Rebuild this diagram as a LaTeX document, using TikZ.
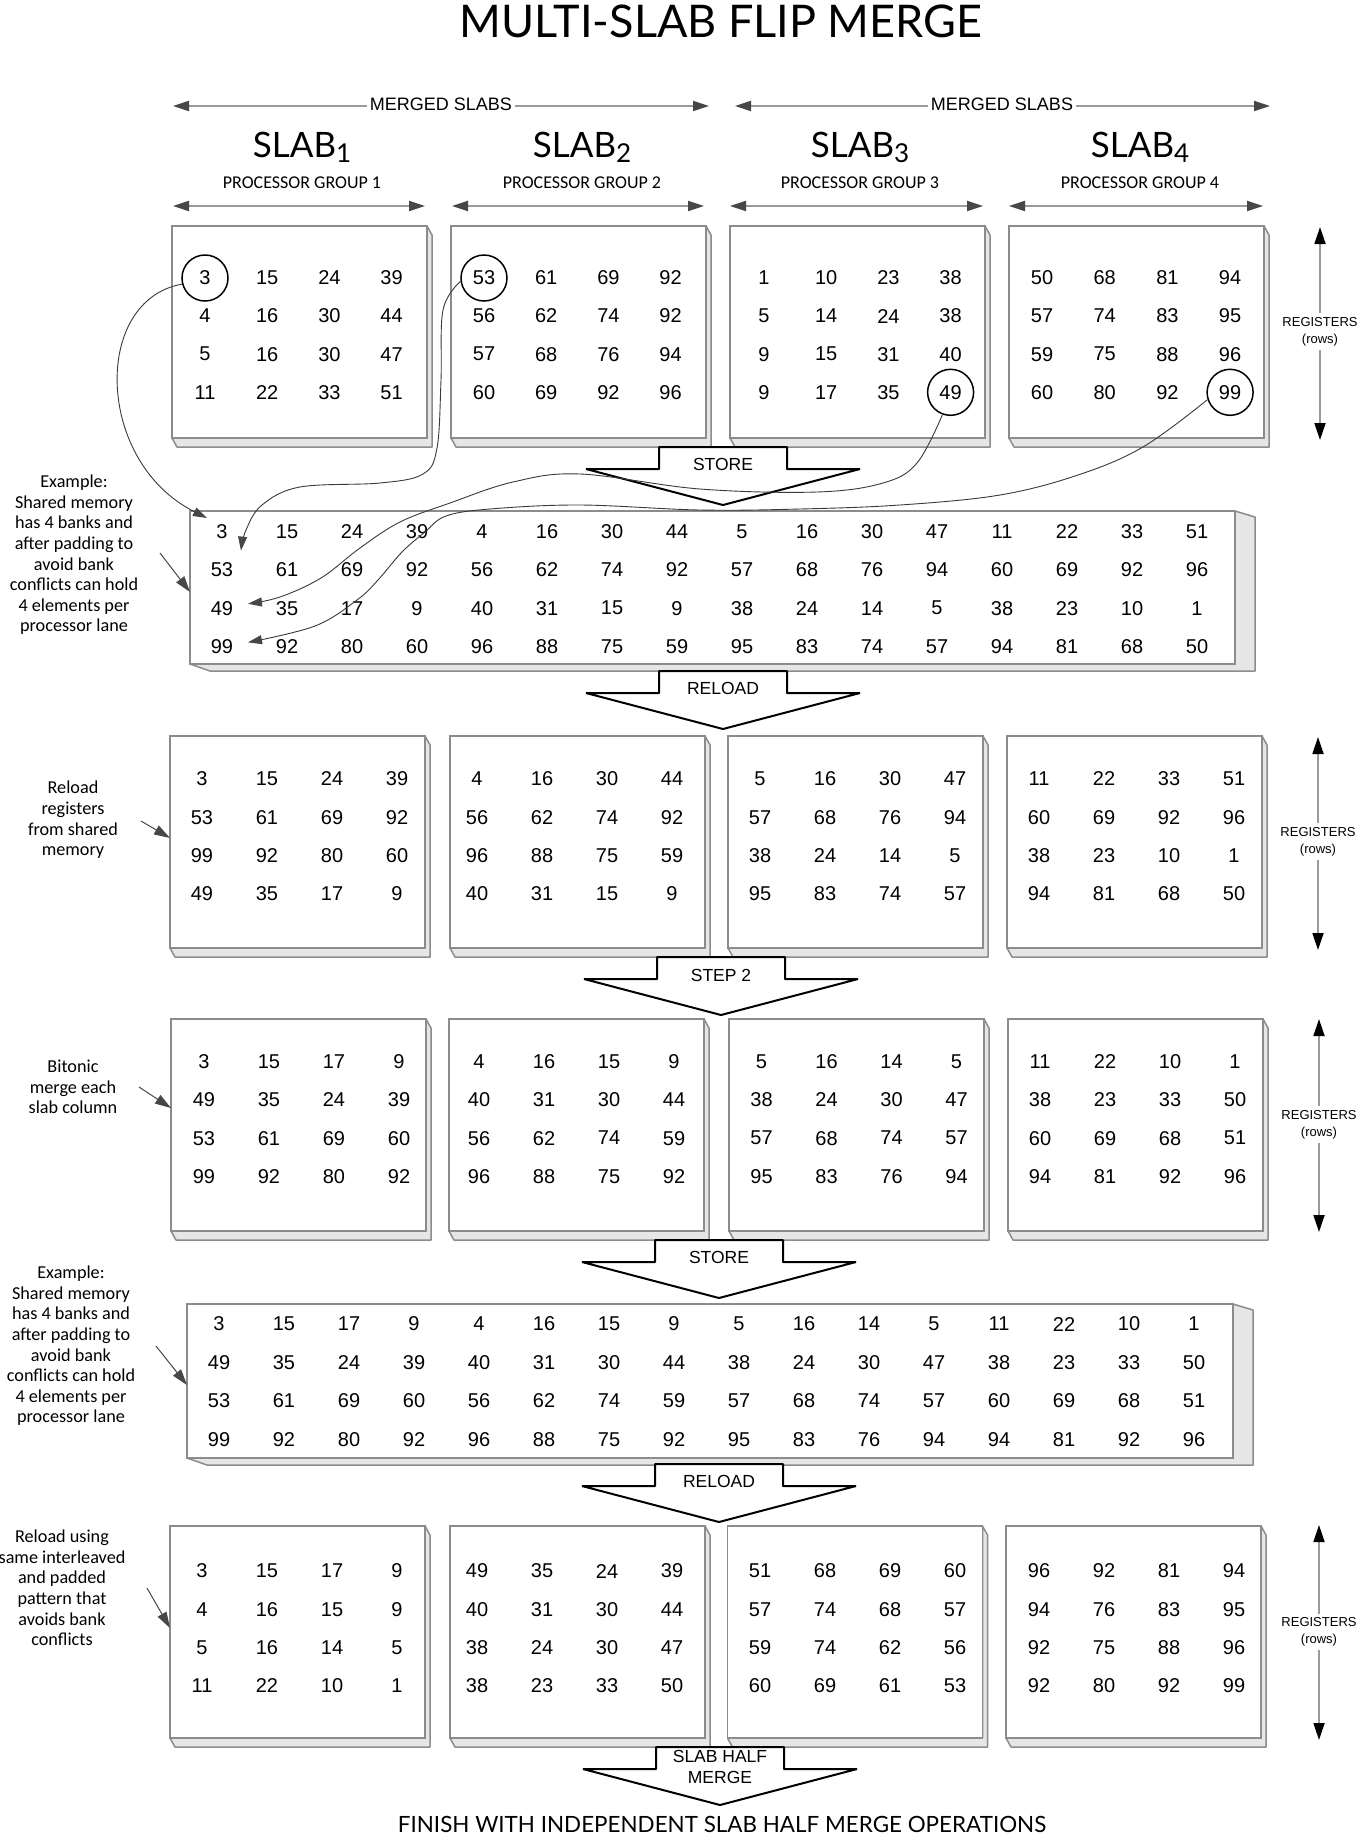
\documentclass[tikz,border=0pt]{standalone}
\usepackage{fontspec}
\setmainfont{Liberation Sans}
\newfontfamily\latof{Lato}
\newfontfamily\carl{Carlito}
\usetikzlibrary{arrows.meta,calc}
\definecolor{boxgray}{HTML}{8C8C8C}
\definecolor{bevelgray}{HTML}{E6E6E6}
\definecolor{dimline}{HTML}{9A9A9A}
\definecolor{headgray}{HTML}{474747}
\definecolor{curvegray}{HTML}{3A3A3A}

\tikzset{
  num/.style={font=\fontsize{10}{12}\selectfont, inner sep=0pt},
  front/.style={rectangle, draw=boxgray, fill=white, line width=0.75pt, inner sep=0pt, outer sep=0pt},
  bevel/.style={draw=boxgray, fill=bevelgray, line width=0.75pt, line join=round},
  flowshape/.style={draw=black, fill=white, line width=1pt, line join=bevel},
  flowlbl/.style={font=\fontsize{8.75}{10.5}\selectfont, inner sep=0pt, align=center},
  dimline/.style={draw=dimline, line width=0.9pt, arrows={Triangle[length=8pt,width=5pt,color=headgray]-Triangle[length=8pt,width=5pt,color=headgray]}},
  regline/.style={draw=dimline, line width=0.9pt, arrows={Triangle[length=8.5pt,width=5.5pt,color=black]-Triangle[length=8.5pt,width=5.5pt,color=black]}},
  reglbl/.style={font=\fontsize{6.5}{8.5}\selectfont, fill=white, align=center, inner xsep=1pt, inner ysep=2pt},
  notelbl/.style={font=\carl\fontsize{9.1}{10.3}\selectfont, align=center, inner sep=0pt},
  notearrow/.style={draw=headgray, line width=0.5pt, arrows={-Triangle[length=8pt,width=5pt,color=headgray]}},
  link/.style={draw=curvegray, line width=0.45pt, arrows={-Triangle[length=7pt,width=4.5pt,color=headgray]}},
  ring/.style={circle, draw=black, line width=0.75pt, minimum size=23pt, inner sep=0pt},
  mergelbl/.style={font=\fontsize{9}{11}\selectfont, fill=white, inner xsep=1.5pt, inner ysep=1pt, anchor=base},
  pglbl/.style={font=\carl\fontsize{9}{11}\selectfont, anchor=base},
  slablbl/.style={font=\latof\fontsize{17.5}{21}\selectfont, anchor=base},
}

\newcommand{\slabbox}[3]{%
  \path[bevel] ({#2+255},#3) -- ({#2+260},{#3+9}) -- ({#2+260},{#3+221}) -- ({#2+5},{#3+221}) -- (#2,{#3+212}) -- ({#2+255},{#3+212}) -- cycle;
  \node[front, minimum width=127.5pt, minimum height=106pt, anchor=north west] (#1) at (#2,#3) {};
}
\newcommand{\bigslab}[5]{%
  \path[bevel] ({#2+#4},#3) -- ({#2+#4+20},{#3+6}) -- ({#2+#4+20},{#3+#5+7}) -- ({#2+20},{#3+#5+7}) -- (#2,{#3+#5}) -- ({#2+#4},{#3+#5}) -- cycle;
  \node[front, minimum width={#4*0.5pt}, minimum height={#5*0.5pt}, anchor=north west] (#1) at (#2,#3) {};
}
\newcommand{\numgrid}[6]{%
  \foreach \rowlist [count=\ri] in {#6} {%
    \foreach \v [count=\ci] in \rowlist {%
      \node[num] (#1-\ri-\ci) at ({#2+(\ci-1)*#4},{#3+(\ri-1)*#5}) {\v};
    }
  }
}
\newcommand{\flowarrow}[5]{%
  \draw[flowshape] ({#2-64},#3) -- ({#2+64},#3) -- ({#2+64},{#3+22}) -- ({#2+137},{#3+22}) -- (#2,{#3+58}) -- ({#2-137},{#3+22}) -- ({#2-64},{#3+22}) -- cycle;
  \node[flowlbl] (#1) at (#2,#4) {#5};
}
\newcommand{\regarrow}[5]{%
  \coordinate (#1t) at (#2,#3); \coordinate (#1b) at (#2,#4);
  \draw[regline] (#1t) -- (#1b);
  \node[reglbl] (#1) at (#2,#5) {REGISTERS\\(rows)};
}

\begin{document}
\begin{tikzpicture}[x=0.5pt,y=-0.5pt]
\useasboundingbox[fill=white] (0,0) rectangle (1359,1837);

% title
\node[font=\latof\fontsize{22.5}{27}\selectfont, anchor=base] (title) at (721,37) {MULTI-SLAB FLIP MERGE};

% merged slabs
\coordinate (m1l) at (173,106); \coordinate (m1r) at (709,106);
\coordinate (m2l) at (735,106); \coordinate (m2r) at (1270,106);
\draw[dimline] (m1l) -- (m1r);
\draw[dimline] (m2l) -- (m2r);
\node[mergelbl] (m1) at (441,110) {MERGED SLABS};
\node[mergelbl] (m2) at (1002,110) {MERGED SLABS};

% slab labels and processor groups
\foreach \i/\xx in {1/302,2/582,3/860,4/1140} {
  \node[slablbl] (slab\i) at (\xx,157) {SLAB\raisebox{-2.5pt}{\fontsize{13}{13}\selectfont\i}};
  \node[pglbl] (pg\i) at (\xx,188) {PROCESSOR GROUP \i};
}
\foreach \i/\a/\b in {1/173/425,2/452/704,3/730/983,4/1009/1263} {
  \coordinate (pa\i) at (\a,206); \coordinate (pb\i) at (\b,206);
  \draw[dimline] (pa\i) -- (pb\i);
}

% ---------- row 1 ----------
\slabbox{box11}{172}{226}
\slabbox{box12}{451}{226}
\slabbox{box13}{730}{226}
\slabbox{box14}{1009}{226}
\numgrid{g11}{205}{278}{62.2}{38.1}{{3,15,24,39},{4,16,30,44},{5,16,30,47},{11,22,33,51}}
\numgrid{g12}{484}{278}{62.2}{38.1}{{53,61,69,92},{56,62,74,92},{57,68,76,94},{60,69,92,96}}
\numgrid{g13}{764}{278}{62.2}{38.1}{{1,10,23,38},{5,14,24,38},{9,15,31,40},{9,17,35,49}}
\numgrid{g14}{1042}{278}{62.7}{38.1}{{50,68,81,94},{57,74,83,95},{59,75,88,96},{60,80,92,99}}
\regarrow{reg1}{1320}{227}{440}{331.5}

\flowarrow{store1}{723}{447}{464}{STORE}

% ---------- shared memory 1 ----------
\bigslab{bb1}{190}{511}{1045}{153}
\numgrid{b1}{222}{532}{65}{38.1}{{3,15,24,39,4,16,30,44,5,16,30,47,11,22,33,51},{53,61,69,92,56,62,74,92,57,68,76,94,60,69,92,96},{49,35,17,9,40,31,15,9,38,24,14,5,38,23,10,1},{99,92,80,60,96,88,75,59,95,83,74,57,94,81,68,50}}
\node[notelbl] (note1) at (74,555) {Example:\\Shared memory\\has 4 banks and\\after padding to\\avoid bank\\conflicts can hold\\4 elements per\\processor lane};
\coordinate (n1s) at (160,553);
\draw[notearrow] (n1s) -- ($(bb1.north west)+(0,81)$);

\flowarrow{reload1}{723}{671}{688}{RELOAD}

% ---------- row 2 ----------
\slabbox{box21}{170}{736}
\slabbox{box22}{450}{736}
\slabbox{box23}{728}{736}
\slabbox{box24}{1007}{736}
\numgrid{g21}{202}{779}{65}{38.3}{{3,15,24,39},{53,61,69,92},{99,92,80,60},{49,35,17,9}}
\numgrid{g22}{477}{779}{65}{38.3}{{4,16,30,44},{56,62,74,92},{96,88,75,59},{40,31,15,9}}
\numgrid{g23}{760}{779}{65}{38.3}{{5,16,30,47},{57,68,76,94},{38,24,14,5},{95,83,74,57}}
\numgrid{g24}{1039}{779}{65}{38.3}{{11,22,33,51},{60,69,92,96},{38,23,10,1},{94,81,68,50}}
\regarrow{reg2}{1318}{737}{950}{841.5}
\node[notelbl] (note2) at (73,820) {Reload\\registers\\from shared\\memory};
\coordinate (n2s) at (141,821);
\draw[notearrow] (n2s) -- ($(box21.north west)+(0,102)$);

\flowarrow{step2}{721}{957}{975}{STEP 2}

% ---------- row 3 ----------
\slabbox{box31}{171}{1019}
\slabbox{box32}{449}{1019}
\slabbox{box33}{729}{1019}
\slabbox{box34}{1008}{1019}
\numgrid{g31}{204}{1061.5}{65}{38.3}{{3,15,17,9},{49,35,24,39},{53,61,69,60},{99,92,80,92}}
\numgrid{g32}{479}{1061.5}{65}{38.3}{{4,16,15,9},{40,31,30,44},{56,62,74,59},{96,88,75,92}}
\numgrid{g33}{761.5}{1061.5}{65}{38.3}{{5,16,14,5},{38,24,30,47},{57,68,74,57},{95,83,76,94}}
\numgrid{g34}{1040}{1061.5}{65}{38.3}{{11,22,10,1},{38,23,33,50},{60,69,68,51},{94,81,92,96}}
\regarrow{reg3}{1319}{1019}{1232}{1124.5}
\node[notelbl] (note3) at (73,1087) {Bitonic\\merge each\\slab column};
\coordinate (n3s) at (139,1087);
\draw[notearrow] (n3s) -- ($(box31.north west)+(0,89)$);

\flowarrow{store2}{719}{1240}{1257}{STORE}

% ---------- shared memory 2 ----------
\bigslab{bb2}{187}{1304}{1046}{154}
\numgrid{b2}{219}{1324}{65}{38.4}{{3,15,17,9,4,16,15,9,5,16,14,5,11,22,10,1},{49,35,24,39,40,31,30,44,38,24,30,47,38,23,33,50},{53,61,69,60,56,62,74,59,57,68,74,57,60,69,68,51},{99,92,80,92,96,88,75,92,95,83,76,94,94,81,92,96}}
\node[notelbl] (note4) at (71,1346) {Example:\\Shared memory\\has 4 banks and\\after padding to\\avoid bank\\conflicts can hold\\4 elements per\\processor lane};
\coordinate (n4s) at (156,1346);
\draw[notearrow] (n4s) -- ($(bb2.north west)+(0,81)$);

\flowarrow{reload2}{719}{1464}{1481}{RELOAD}

% ---------- row 4 ----------
\slabbox{box41}{170}{1526}
\slabbox{box42}{450}{1526}
\slabbox{box43}{727.5}{1526}
\slabbox{box44}{1006}{1526}
\numgrid{g41}{202}{1571}{65}{38.3}{{3,15,17,9},{4,16,15,9},{5,16,14,5},{11,22,10,1}}
\numgrid{g42}{477}{1571}{65}{38.3}{{49,35,24,39},{40,31,30,44},{38,24,30,47},{38,23,33,50}}
\numgrid{g43}{760}{1571}{65}{38.3}{{51,68,69,60},{57,74,68,57},{59,74,62,56},{60,69,61,53}}
\numgrid{g44}{1039}{1571}{65}{38.3}{{96,92,81,94},{94,76,83,95},{92,75,88,96},{92,80,92,99}}
\regarrow{reg4}{1319}{1525}{1740}{1632}
\node[notelbl] (note5) at (62,1588) {Reload using\\same interleaved\\and padded\\pattern that\\avoids bank\\conflicts};
\coordinate (n5s) at (147,1588);
\draw[notearrow] (n5s) -- ($(box41.north west)+(0,102)$);

\flowarrow{halfmerge}{720}{1747}{1766.5}{SLAB HALF\\MERGE}

\node[font=\latof\fontsize{11.2}{14}\selectfont, anchor=base] (finish) at (722,1832) {FINISH WITH INDEPENDENT SLAB HALF MERGE OPERATIONS};

% ---------- circles and links ----------
\node[ring] (c3) at (g11-1-1) {};
\node[ring] (c53) at (g12-1-1) {};
\node[ring] (c49) at (g13-4-4) {};
\node[ring] (c99) at (g14-4-4) {};

\coordinate (e1) at ([shift={(-15,-14)}]b1-1-1.center);
\coordinate (e2) at ([shift={(19,-19.5)}]b1-2-1.center);
\coordinate (e3) at ([shift={(26,-4.5)}]b1-3-1.center);
\coordinate (e4) at ([shift={(26,-4)}]b1-4-1.center);

\draw[link] (c3.195) .. controls (92,300) and (95,462) .. (e1);
\draw[link] plot[smooth, tension=0.6] coordinates {(c53.188) (443,310) (441,380) (437,448) (423,474) (380,483) (300,487) (262,505) (246,530) (e2)};
\draw[link] plot[smooth, tension=0.6] coordinates {(c49.250) (917,463) (883,483) (817,492) (700,489) (580,474) (513,482) (450,503) (400,522) (360,548) (321,578) (280,597) (e3)};
\draw[link] plot[smooth, tension=0.6] coordinates {(c99.198) (1143,447) (1078,475) (1000,495) (900,505) (800,509) (700,510) (580,505) (490,509) (446,516) (425,532) (402,552) (378,580) (357,600) (315,626) (e4)};

\end{tikzpicture}
\end{document}
